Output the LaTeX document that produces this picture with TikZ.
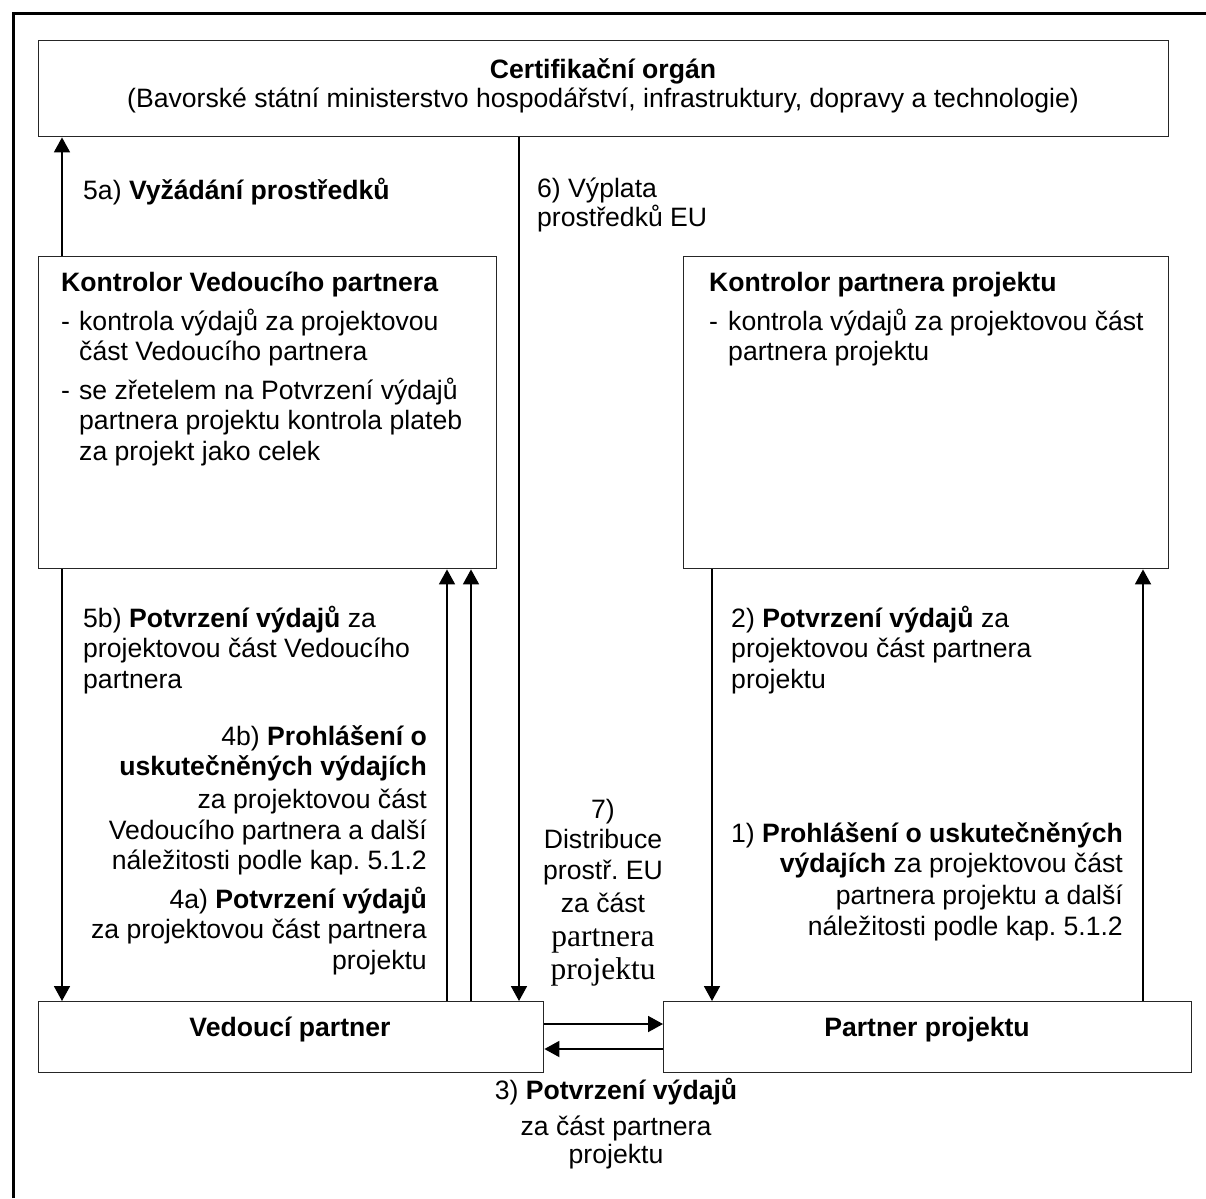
\documentclass[tikz,border=0pt]{standalone}
\usepackage{fontspec}
\setmainfont{Liberation Sans}
\newfontfamily\seriffam{Liberation Serif}
\usetikzlibrary{arrows.meta}
\frenchspacing
\newcommand{\basefs}{\fontsize{26.6}{30.5}\selectfont\frenchspacing}
\newcommand{\serfs}{\seriffam\fontsize{31.5}{34}\selectfont}
\begin{document}
\begin{tikzpicture}[x=1pt,y=-1pt,
  box/.style={draw=black!85, line width=1.4pt, inner sep=0pt, anchor=north west},
  arr/.style={draw=black, line width=1.8pt, -{Triangle[width=16pt,length=15pt]}},
  lbl/.style={inner sep=0pt, font=\basefs, text=black},
  frame/.style={draw=black, line width=3.5pt, line join=miter}
]
\useasboundingbox (0,0) rectangle (1206,1198);
\fill[white] (0,0) rectangle (1206,1198);
% outer frame (left and top only visible)
\coordinate (fbl) at (13.5,1198);
\coordinate (ftl) at (13.5,13.5);
\coordinate (ftr) at (1206,13.5);
\draw[frame] (fbl) -- (ftl) -- (ftr);

% boxes
\node[box, minimum width=1130pt, minimum height=96pt] (cert) at (38,40) {};
\node[box, minimum width=458pt, minimum height=312pt] (kvp) at (38,256) {};
\node[box, minimum width=485pt, minimum height=312pt] (kpp) at (683,256) {};
\node[box, minimum width=505pt, minimum height=71pt] (vp) at (38,1001) {};
\node[box, minimum width=528pt, minimum height=71pt] (pp) at (663,1001) {};

% connector guide coordinates
\coordinate (xa) at (62,0);
\coordinate (xb) at (447,0);
\coordinate (xc) at (471,0);
\coordinate (xd) at (519,0);
\coordinate (xe) at (712,0);
\coordinate (xf) at (1143,0);
\coordinate (ya) at (0,1024);
\coordinate (yb) at (0,1049);

% connectors
\draw[arr] (kvp.north -| xa) -- (cert.south -| xa);
\draw[arr] (kvp.south -| xa) -- (vp.north -| xa);
\draw[arr] (vp.north -| xb) -- (kvp.south -| xb);
\draw[arr] (vp.north -| xc) -- (kvp.south -| xc);
\draw[arr] (cert.south -| xd) -- (vp.north -| xd);
\draw[arr] (kpp.south -| xe) -- (pp.north -| xe);
\draw[arr] (pp.north -| xf) -- (kpp.south -| xf);
\draw[arr] (vp.east |- ya) -- (pp.west |- ya);
\draw[arr] (pp.west |- yb) -- (vp.east |- yb);

% texts (multi-line nodes: base anchor = baseline of last line)
\node[lbl, align=center, anchor=base] (tcert) at (603,107.5)
  {\textbf{Certifikační orgán}\\[-2pt] (Bavorské státní ministerstvo hospodářství, infrastruktury, dopravy a technologie)};

\node[lbl, anchor=base west] (t5a) at (83,200) {5a) \textbf{Vyžádání prostředků}};
\node[lbl, align=left, anchor=base west] (t6) at (537,226.5) {6) Výplata\\[-2pt] prostředků EU};

\node[lbl, anchor=base west] (tkvph) at (61,291) {\textbf{Kontrolor Vedoucího partnera}};
\node[lbl, align=left, anchor=base west] (tkvpb) at (61,460)
  {\makebox[18pt][l]{-}kontrola výdajů za projektovou\\
   \hspace*{18pt}část Vedoucího partnera\\[8pt]
   \makebox[18pt][l]{-}se zřetelem na Potvrzení výdajů\\
   \hspace*{18pt}partnera projektu kontrola plateb\\
   \hspace*{18pt}za projekt jako celek};

\node[lbl, anchor=base west] (tkpph) at (709,291) {\textbf{Kontrolor partnera projektu}};
\node[lbl, align=left, anchor=base west] (tkppb) at (709,360.5)
  {\makebox[19pt][l]{-}kontrola výdajů za projektovou část\\
   \hspace*{19pt}partnera projektu};

\node[lbl, align=left, anchor=base west] (t5b) at (83,688)
  {5b) \textbf{Potvrzení výdajů} za\\ projektovou část Vedoucího\\ partnera};

\node[lbl, align=right, anchor=base east] (t4) at (427,969)
  {4b) \textbf{Prohlášení o}\\
   \textbf{uskutečněných výdajích}\\[2.5pt]
   za projektovou část\\
   Vedoucího partnera a další\\
   náležitosti podle kap. 5.1.2\\[8pt]
   4a) \textbf{Potvrzení výdajů}\\
   za projektovou část partnera\\
   projektu};

\node[lbl, align=left, anchor=base west] (t2) at (731,688)
  {2) \textbf{Potvrzení výdajů} za\\ projektovou část partnera\\ projektu};

\node[lbl, align=right, anchor=base east] (t1) at (1123,935)
  {1) \textbf{Prohlášení o uskutečněných}\\
   \textbf{výdajích} za projektovou část\\[1.5pt]
   partnera projektu a další\\
   náležitosti podle kap. 5.1.2};

\node[lbl, align=center, anchor=base] (t7) at (603,979)
  {7)\\ Distribuce\\ prostř. EU\\[2.5pt] za část\\[3.5pt] {\serfs partnera}\\[2.5pt] {\serfs projektu}};

\node[lbl, align=center, anchor=base] (t3) at (616,1163.5)
  {3) \textbf{Potvrzení výdajů}\\[6pt] za část partnera\\[-2.5pt] projektu};

\node[lbl, anchor=base] (tvp) at (290,1036) {\textbf{Vedoucí partner}};
\node[lbl, anchor=base] (tpp) at (927,1036) {\textbf{Partner projektu}};
\end{tikzpicture}
\end{document}
